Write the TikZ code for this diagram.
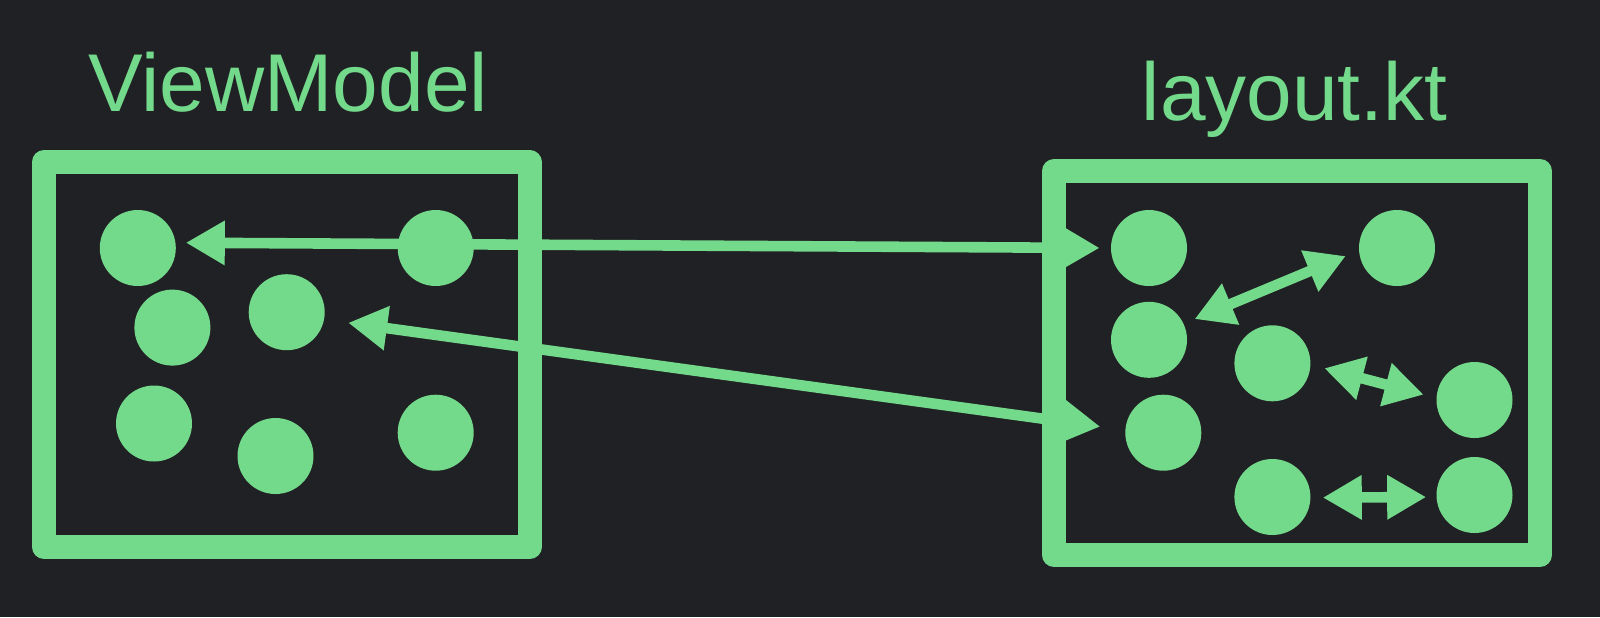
\documentclass[tikz,border=0pt]{standalone}
\usepackage{fontspec}
\setmainfont{Liberation Sans}
\usetikzlibrary{arrows.meta}
\definecolor{bg}{RGB}{32,33,36}
\definecolor{grn}{RGB}{116,218,139}
\tikzset{
  dot/.style={circle, fill=grn, draw=none, minimum size=38pt, inner sep=0pt},
  frame/.style={draw=grn, line width=12pt, line join=round, inner sep=0pt},
  link/.style={draw=grn, line width=5.3pt, {Triangle[length=19.5pt,width=21pt]}-{Triangle[length=19.5pt,width=21pt]}},
  title/.style={text=grn, font=\fontsize{41}{49}\selectfont, inner sep=0pt, anchor=base west}
}
\begin{document}
\begin{tikzpicture}[x=0.5pt,y=-0.5pt]
\fill[bg] (0,0) rectangle (1600,617);
\useasboundingbox (0,0) rectangle (1600,617);

\node[title] (t1) at (88,111) {ViewModel};
\node[title] (t2) at (1141.5,120) {layout.kt};

\node[frame, minimum width=242.75pt, minimum height=192.5pt] (vm) at (286.75,354.5) {};
\node[frame, minimum width=243pt, minimum height=192pt] (lk) at (1297,363) {};

\node[dot] (A1) at (137.8,248) {};
\node[dot] (A2) at (435.7,248) {};
\node[dot] (A3) at (172.4,327.6) {};
\node[dot] (A4) at (286.7,312.2) {};
\node[dot] (A5) at (154,423.5) {};
\node[dot] (A6) at (275.5,456) {};
\node[dot] (A7) at (435.7,432.7) {};

\node[dot] (B1) at (1149,248) {};
\node[dot] (B2) at (1397,248) {};
\node[dot] (B3) at (1149,339.8) {};
\node[dot] (B4) at (1272.4,363.3) {};
\node[dot] (B5) at (1163.3,432.7) {};
\node[dot] (B6) at (1474.5,400) {};
\node[dot] (B7) at (1272.4,497) {};
\node[dot] (B8) at (1474.5,495) {};

\draw[link, shorten <=5pt, shorten >=5.5pt] (A1.8) -- (B1.180);
\draw[link, shorten <=12pt, shorten >=12.5pt] (A4.-11.5) -- (B5.176);
\draw[link, shorten <=5.85pt, shorten >=7pt] (B3.25.5) -- (B2.184.4);
\draw[link, shorten <=7pt, shorten >=6.5pt] (B4.-2.2) -- (B6.177.8);
\draw[link, shorten <=6pt, shorten >=5pt] (B7.-1.1) -- (B8.183.6);
\end{tikzpicture}
\end{document}
